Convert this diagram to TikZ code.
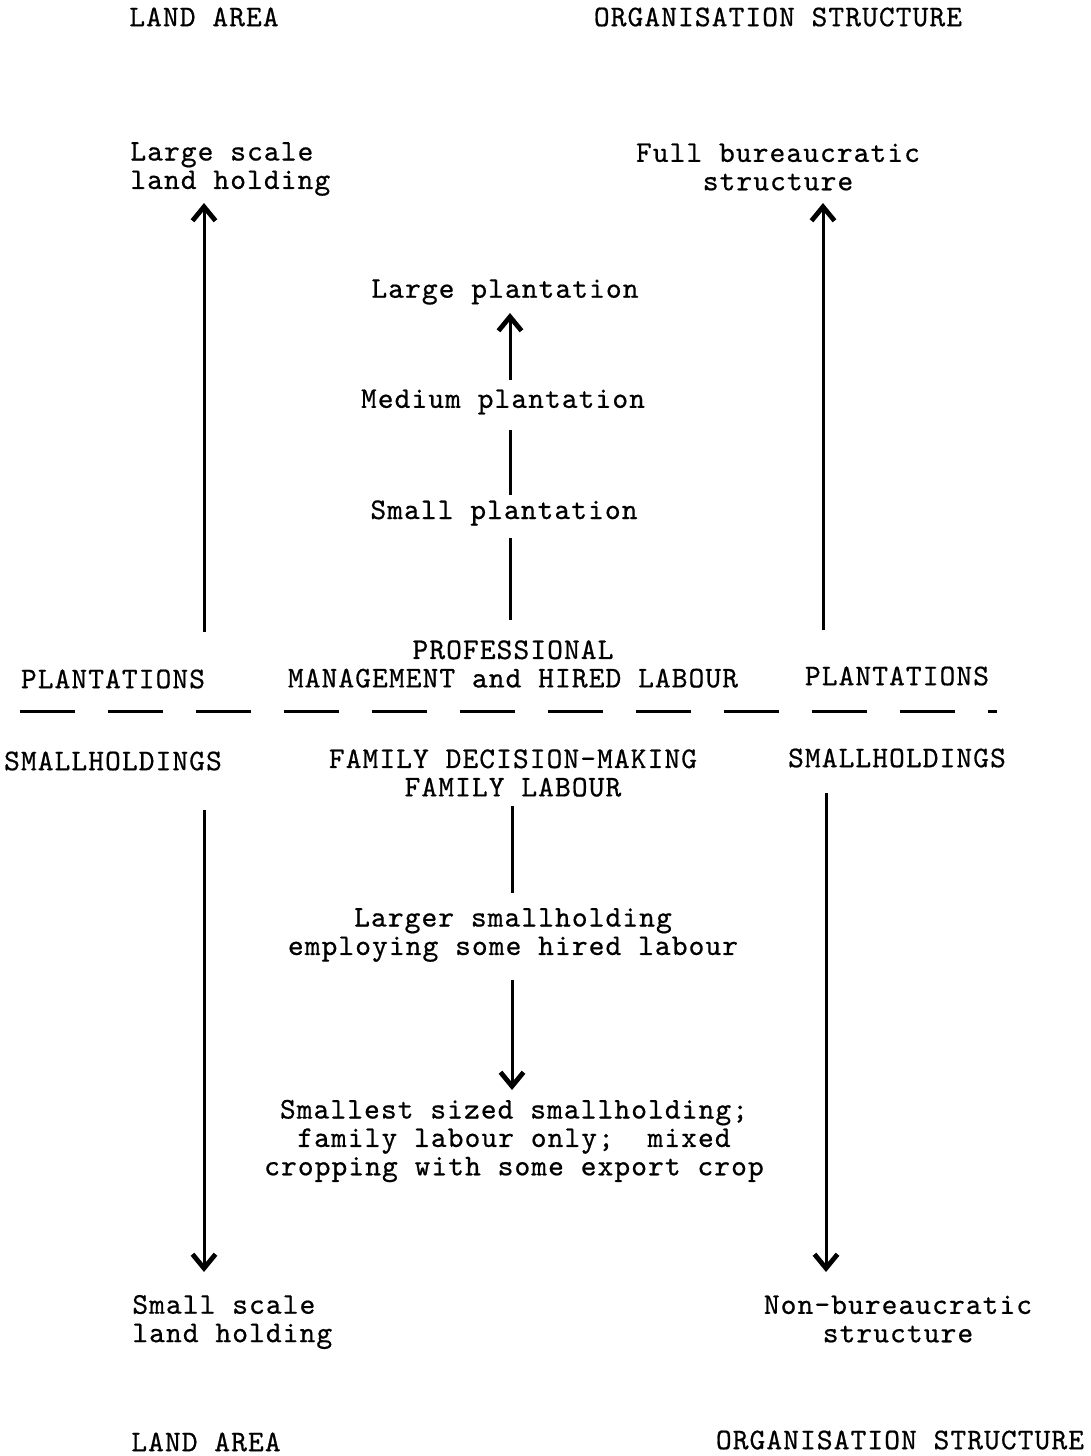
\documentclass[tikz,border=0pt]{standalone}
\usepackage{fontspec}
\newfontfamily\typer{lmmono10-regular}[Extension=.otf, LetterSpace=3.6, FakeBold=0.6]
\usetikzlibrary{arrows.meta}
\begin{document}
\begin{tikzpicture}[x=0.5pt,y=-0.5pt,
  lbl/.style={font={\typer\fontsize{15}{14.2}\selectfont}, inner sep=0pt, align=center},
  lbll/.style={lbl, align=left, anchor=west},
  axis/.style={line width=1.5pt},
  arr/.style={axis, -{Straight Barb[length=7pt,width=11.5pt,line width=2.4pt]}},
  divider/.style={line width=1.5pt, dash pattern=on 27.5pt off 16.5pt}]
\useasboundingbox (0,0) rectangle (1091,1456);

% headings
\node[lbl] (laT) at (204,17) {LAND AREA};
\node[lbl] (osT) at (778,17) {ORGANISATION STRUCTURE};
\node[lbl] (laB) at (206,1442) {LAND AREA};
\node[lbl] (osB) at (900,1440) {ORGANISATION STRUCTURE};

% extremes of the two scales
\node[lbll] (lsl) at (130,169) {Large scale\\land holding};
\node[lbl] (fbs) at (778,167) {Full bureaucratic\\structure};
\node[lbll] (ssl) at (132,1322) {Small scale\\land holding};
\node[lbl] (nbs) at (898,1319) {Non-bureaucratic\\structure};

% plantation ladder
\node[lbl] (lp) at (505,292) {Large plantation};
\node[lbl] (mp) at (503,402) {Medium plantation};
\node[lbl] (sp) at (504,513) {Small plantation};
\node[lbl] (pm) at (513,664) {PROFESSIONAL\\MANAGEMENT and HIRED LABOUR};

% sector labels either side of the divide
\node[lbl] (plL) at (113,679) {PLANTATIONS};
\node[lbl] (plR) at (897,676) {PLANTATIONS};
\node[lbl] (shL) at (113,761) {SMALLHOLDINGS};
\node[lbl] (shR) at (897,758) {SMALLHOLDINGS};

% smallholding ladder
\node[lbl] (fd) at (513,773) {FAMILY DECISION-MAKING\\FAMILY LABOUR};
\node[lbl] (ls) at (513,935) {Larger smallholding\\employing some hired labour};
\node[lbl] (ss) at (514,1141) {Smallest sized smallholding;\\family labour only;~ mixed\\cropping with some export crop};

% dividing line
\coordinate (dvL) at (20,711);
\coordinate (dvR) at (997,711);
\draw[divider] (dvL) -- (dvR);

% land area axis
\coordinate (laU) at (204,632);
\coordinate (laUt) at (204,203);
\coordinate (laD) at (204,810);
\coordinate (laDt) at (204,1272);
\draw[arr] (laU) -- (laUt);
\draw[arr] (laD) -- (laDt);

% organisation structure axis
\coordinate (osU) at (823,630);
\coordinate (osUt) at (823,203);
\coordinate (osD) at (826,793);
\coordinate (osDt) at (826,1272);
\draw[arr] (osU) -- (osUt);
\draw[arr] (osD) -- (osDt);

% central ladders
\coordinate (m1) at (510,380);
\coordinate (m1t) at (510,313);
\draw[arr] (m1) -- (m1t);
\coordinate (m2a) at (510,430);
\coordinate (m2b) at (510,495);
\draw[axis] (m2a) -- (m2b);
\coordinate (m3a) at (510,538);
\coordinate (m3b) at (510,620);
\draw[axis] (m3a) -- (m3b);
\coordinate (f1a) at (512,806);
\coordinate (f1b) at (512,893);
\draw[axis] (f1a) -- (f1b);
\coordinate (f2a) at (512,980);
\coordinate (f2t) at (512,1090);
\draw[arr] (f2a) -- (f2t);
\end{tikzpicture}
\end{document}
